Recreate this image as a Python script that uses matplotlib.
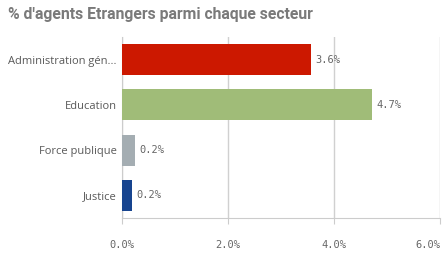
import matplotlib.pyplot as plt

categories = ["Administration gén...", "Education", "Force publique", "Justice"]
values = [3.57, 4.72, 0.24, 0.19]
value_labels = ["3.6%", "4.7%", "0.2%", "0.2%"]
colors = ["#cc1800", "#a0bc78", "#a4adb2", "#17448f"]
xticks = [0, 2, 4, 6]
xtick_labels = ["0.0%", "2.0%", "4.0%", "6.0%"]

W, H = 446, 258
fig = plt.figure(figsize=(W / 100, H / 100), dpi=100)
ax = fig.add_axes([122 / W, 1 - 218 / H, 318 / W, 181 / H])

ypos = list(range(len(categories)))
ax.barh(ypos, values, height=0.69, color=colors, zorder=3)
for y, v, lab in zip(ypos, values, value_labels):
    ax.text(v + 0.08, y, lab, va="center", ha="left", fontsize=7.5,
            family="DejaVu Sans Mono", color="#666666")

ax.set_ylim(3.5, -0.5)
ax.set_xlim(0, 6)
ax.set_yticks(ypos)
ax.set_yticklabels(categories, fontsize=8, color="#595959", family="Open Sans")
ax.set_xticks(xticks)
ax.set_xticklabels(xtick_labels, fontsize=7.5, color="#666666", family="DejaVu Sans Mono")
# last tick label sits inside the figure, like the reference
ax.get_xticklabels()[-1].set_ha("right")
ax.tick_params(axis="y", length=0, pad=4)
ax.tick_params(axis="x", length=4, color="#cccccc", pad=12)
ax.grid(axis="x", color="#d0d0d0", linewidth=1, zorder=0)
for s in ["top", "right"]:
    ax.spines[s].set_visible(False)
for s in ["left", "bottom"]:
    ax.spines[s].set_color("#cccccc")

fig.text(8 / W, 1 - 15 / H, "% d'agents Etrangers parmi chaque secteur",
         fontsize=11.3, fontweight="bold", color="#7a7a7a", va="center", ha="left",
         family="Roboto")

fig.savefig("out.png", dpi=100)
